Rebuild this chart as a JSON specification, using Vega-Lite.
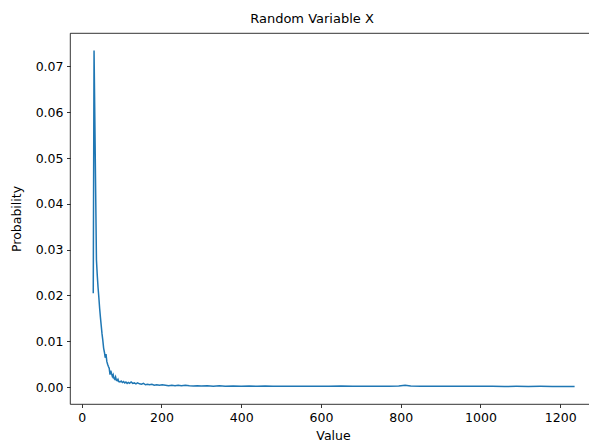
{
  "$schema": "https://vega.github.io/schema/vega-lite/v6.json",
  "autosize": "none",
  "width": 520,
  "height": 371,
  "padding": {"left": 70, "top": 33, "right": 0, "bottom": 39},
  "background": "white",
  "title": {"text": "Random Variable X", "font": "DejaVu Sans", "fontSize": 13, "fontWeight": "normal", "color": "black", "offset": 7, "dx": -18},
  "config": {
    "view": {"stroke": "black", "strokeWidth": 0.8},
    "axis": {"grid": false, "domain": false, "tickColor": "black", "tickSize": 3.5, "tickWidth": 0.8, "labelFont": "DejaVu Sans", "labelFontSize": 12.5, "labelColor": "black", "labelPadding": 3.5, "titleFont": "DejaVu Sans", "titleFontSize": 12.5, "titleFontWeight": "normal", "titleColor": "black"}
  },
  "data": {"values": [
    {"x": 29, "p": 0.0205}, {"x": 31, "p": 0.0735}, {"x": 37, "p": 0.0278}, {"x": 39, "p": 0.0245}, {"x": 41, "p": 0.0218}, {"x": 43, "p": 0.0196}, {"x": 45, "p": 0.0172}, {"x": 47, "p": 0.0152}, {"x": 49, "p": 0.0134}, {"x": 51, "p": 0.0116}, {"x": 53, "p": 0.0102}, {"x": 55, "p": 0.0085}, {"x": 57, "p": 0.0076}, {"x": 59, "p": 0.0064}, {"x": 61, "p": 0.0072}, {"x": 63, "p": 0.0056}, {"x": 65, "p": 0.0050}, {"x": 67, "p": 0.0045}, {"x": 69, "p": 0.0041}, {"x": 71, "p": 0.0027}, {"x": 73, "p": 0.0036}, {"x": 75, "p": 0.0029}, {"x": 77, "p": 0.0023}, {"x": 79, "p": 0.0027}, {"x": 81, "p": 0.0019}, {"x": 83, "p": 0.0017}, {"x": 85, "p": 0.0022}, {"x": 87, "p": 0.0015}, {"x": 89, "p": 0.0014}, {"x": 91, "p": 0.0017}, {"x": 93, "p": 0.0012}, {"x": 96, "p": 0.0011}, {"x": 99, "p": 0.0013}, {"x": 102, "p": 0.0010}, {"x": 105, "p": 0.0012}, {"x": 108, "p": 0.0009}, {"x": 111, "p": 0.0011}, {"x": 114, "p": 0.0008}, {"x": 117, "p": 0.0010}, {"x": 120, "p": 0.0008}, {"x": 124, "p": 0.0011}, {"x": 128, "p": 0.0008}, {"x": 132, "p": 0.0009}, {"x": 136, "p": 0.0007}, {"x": 140, "p": 0.0009}, {"x": 145, "p": 0.0007}, {"x": 150, "p": 0.0006}, {"x": 155, "p": 0.0008}, {"x": 160, "p": 0.0005}, {"x": 165, "p": 0.0006}, {"x": 170, "p": 0.0005}, {"x": 176, "p": 0.0006}, {"x": 182, "p": 0.0004}, {"x": 188, "p": 0.0005}, {"x": 195, "p": 0.0004}, {"x": 202, "p": 0.0005}, {"x": 210, "p": 0.0004}, {"x": 218, "p": 0.0003}, {"x": 226, "p": 0.0004}, {"x": 234, "p": 0.0003}, {"x": 242, "p": 0.0004}, {"x": 250, "p": 0.0003}, {"x": 260, "p": 0.0004}, {"x": 270, "p": 0.0003}, {"x": 280, "p": 0.00025}, {"x": 290, "p": 0.0003}, {"x": 300, "p": 0.00025}, {"x": 315, "p": 0.0003}, {"x": 330, "p": 0.0002}, {"x": 345, "p": 0.00028}, {"x": 360, "p": 0.0002}, {"x": 380, "p": 0.00025}, {"x": 400, "p": 0.0002}, {"x": 420, "p": 0.00022}, {"x": 440, "p": 0.00018}, {"x": 460, "p": 0.00022}, {"x": 480, "p": 0.0002}, {"x": 500, "p": 0.00018}, {"x": 530, "p": 0.0002}, {"x": 560, "p": 0.00017}, {"x": 590, "p": 0.0002}, {"x": 620, "p": 0.00018}, {"x": 650, "p": 0.00022}, {"x": 680, "p": 0.00017}, {"x": 710, "p": 0.00018}, {"x": 740, "p": 0.00016}, {"x": 770, "p": 0.00018}, {"x": 795, "p": 0.00025}, {"x": 811, "p": 0.0004}, {"x": 825, "p": 0.00025}, {"x": 850, "p": 0.00018}, {"x": 880, "p": 0.00016}, {"x": 910, "p": 0.00017}, {"x": 940, "p": 0.00015}, {"x": 970, "p": 0.00018}, {"x": 1000, "p": 0.00015}, {"x": 1030, "p": 0.00016}, {"x": 1060, "p": 0.00014}, {"x": 1090, "p": 0.00015}, {"x": 1120, "p": 0.00014}, {"x": 1150, "p": 0.00015}, {"x": 1180, "p": 0.00013}, {"x": 1210, "p": 0.00014}, {"x": 1236, "p": 0.00013}
  ]},
  "mark": {"type": "line", "color": "#1f77b4", "strokeWidth": 1.5, "clip": true},
  "encoding": {
    "x": {"field": "x", "type": "quantitative", "title": "Value", "scale": {"domain": [-29.3, 1274.6], "nice": false, "zero": false}, "axis": {"values": [0, 200, 400, 600, 800, 1000, 1200], "format": "d", "titlePadding": 6, "titleX": 263}},
    "y": {"field": "p", "type": "quantitative", "title": "Probability", "scale": {"domain": [-0.0037, 0.0773], "nice": false, "zero": false}, "axis": {"values": [0, 0.01, 0.02, 0.03, 0.04, 0.05, 0.06, 0.07], "format": ".2f", "titlePadding": 12}}
  }
}
